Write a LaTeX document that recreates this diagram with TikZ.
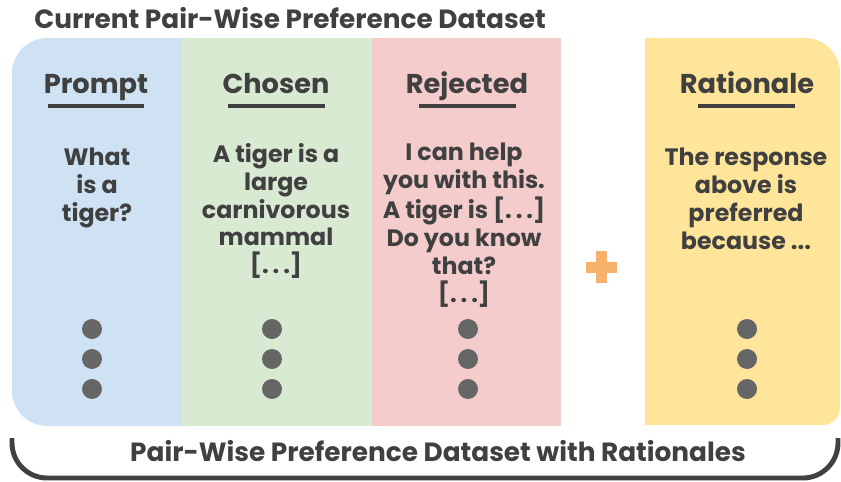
\documentclass[tikz,border=0pt]{standalone}
\usepackage{fontspec}
\setmainfont{Poppins}
\usepackage{xcolor}
\usetikzlibrary{positioning}
\definecolor{promptfill}{HTML}{CFE2F3}
\definecolor{chosenfill}{HTML}{D9EAD3}
\definecolor{rejectfill}{HTML}{F4CCCC}
\definecolor{ratiofill}{HTML}{FFE599}
\definecolor{plusorange}{HTML}{F6B26B}
\definecolor{inkgray}{HTML}{404040}
\definecolor{dotgray}{HTML}{666666}

\begin{document}
\begin{tikzpicture}[x=0.02cm, y=-0.02cm, node distance=0.6cm, on grid,
    title/.style={font=\fontsize{15}{18}\selectfont\bfseries, text=inkgray},
    header/.style={font=\fontsize{15.5}{18}\selectfont\bfseries, text=inkgray, inner sep=0pt, anchor=base},
    body/.style={font=\fontsize{13.5}{15.9}\selectfont\bfseries, text=inkgray, align=center, inner sep=0pt},
    dot/.style={circle, fill=dotgray, minimum size=0.4cm, inner sep=0pt},
    underline/.style={draw=inkgray, line width=2pt}]

    \useasboundingbox (0,0) rectangle (841,481);

    % columns
    \fill[promptfill, rounded corners=20] (182,38) -- (12,38) -- (12,426) -- (182,426);
    \fill[chosenfill] (182,38) rectangle (372,426);
    \fill[rejectfill] (372,38) rectangle (561,426);
    \fill[ratiofill] (645,425) -- (645,38) [rounded corners=20] -- (840,38) [rounded corners=10] -- (840,425) [sharp corners] -- cycle;

    % plus sign
    \fill[plusorange] (586,262) rectangle (617,273);
    \fill[plusorange] (596,251) rectangle (607,283);

    \node[title] (top) at (290,18) {Current Pair-Wise Preference Dataset};

    \node[header] (hP) at (96,93) {Prompt};
    \node[header] (hC) at (276,93) {Chosen};
    \node[header] (hR) at (467,93) {Rejected};
    \node[header] (hA) at (747,93) {Rationale};
    \draw[underline] (48,106) -- (144,106);
    \draw[underline] (228,106) -- (325,106);
    \draw[underline] (419,106) -- (516,106);
    \draw[underline] (698,106) -- (795,106);

    \node[body] (tP) at (97,188) {What\\is a\\tiger?};
    \node[body] (tC) at (276,211) {A tiger is a\\large\\carnivorous\\mammal\\{[.\,.\,.]}};
    \node[body] (tR) at (464,225) {I can help\\you with this.\\A tiger is [.\,.\,.]\\Do you know\\that?\\{[.\,.\,.]}};
    \node[body] (tA) at (746,199) {The response\\above is\\preferred\\because ...};

    \node[dot] (dP1) at (92,329) {};
    \node[dot, below=of dP1] (dP2) {};
    \node[dot, below=of dP2] (dP3) {};
    \node[dot] (dC1) at (272,329) {};
    \node[dot, below=of dC1] (dC2) {};
    \node[dot, below=of dC2] (dC3) {};
    \node[dot] (dR1) at (468,329) {};
    \node[dot, below=of dR1] (dR2) {};
    \node[dot, below=of dR2] (dR3) {};
    \node[dot] (dA1) at (747,329) {};
    \node[dot, below=of dA1] (dA2) {};
    \node[dot, below=of dA2] (dA3) {};

    % bracket under everything
    \draw[inkgray, line width=2.8pt, rounded corners=20] (12,438) -- (12,478) -- (838,478) -- (838,438);
    \node[title] (bottom) at (438,451) {Pair-Wise Preference Dataset with Rationales};

\end{tikzpicture}
\end{document}
